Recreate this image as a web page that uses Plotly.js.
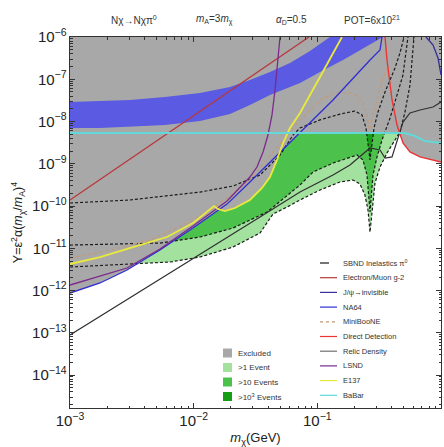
<!DOCTYPE html>
<html><head><meta charset="utf-8">
<script src="https://cdn.plot.ly/plotly-3.0.1.min.js"></script>
<style>html,body{margin:0;padding:0;background:#fff}#chart{width:444px;height:447px}</style>
</head><body><div id="chart"></div>
<script>
// ---------------- data (m_chi in GeV, Y) ----------------
const bandUpperM = [0.001,0.00175,0.003055,0.00586,0.01125,0.01967,0.0285,0.0414,0.0601,0.0872,0.1265];
const bandUpperY = [2.90e-8,3.06e-8,3.23e-8,3.80e-8,4.73e-8,6.56e-8,9.60e-8,1.49e-7,2.43e-7,4.66e-7,1e-6];
const bandLowerM = [0.001,0.00175,0.003055,0.00586,0.01125,0.01967,0.0285,0.0414,0.0724,0.1051,0.1613,0.2213,0.3397];
const bandLowerY = [7.02e-9,7.02e-9,7.41e-9,8.26e-9,1.03e-8,1.50e-8,2.46e-8,4.24e-8,8.15e-8,1.49e-7,2.86e-7,4.92e-7,1e-6];

const babarM = [0.001,0.5115,0.6162,0.7422,1.0];
const babarY = [5.35e-9,5.35e-9,4.54e-9,3.45e-9,3.10e-9];

const g2M = [0.001,0.00933,0.0856];
const g2Y = [1.39e-10,1.21e-8,1e-6];

const ddM = [0.3526,0.3660,0.4018,0.4409,0.4928,0.5613,0.6761,1.0];
const ddY = [1e-6,2.86e-7,3.23e-8,8.26e-9,3.10e-9,1.90e-9,1.45e-9,1.10e-9];

const jpsiM = [0.7564,0.8624,0.9462,1.0];
const jpsiY = [1e-6,6.47e-7,3.18e-7,1.26e-7];

const na64M = [0.001,0.00175,0.00289,0.00534,0.00988,0.01862,0.0285,0.0499,0.0724,0.1339,0.2667,0.3212,0.3334];
const na64Y = [8.73e-13,1.51e-12,3.06e-12,9.09e-12,3.01e-11,1.11e-10,3.70e-10,1.90e-9,5.35e-9,3.23e-8,2.86e-7,4.92e-7,1e-6];

const lsndM = [0.001,0.002105,0.00289,0.00534,0.00988,0.01862,0.0237,0.0285,0.0325,0.0364,0.0399,0.0430,0.0455,0.0481,0.0499];
const lsndY = [1.35e-12,2.60e-12,3.41e-12,9.59e-12,3.36e-11,1.31e-10,2.67e-10,4.86e-10,8.38e-10,1.90e-9,4.79e-9,1.43e-8,5.57e-8,2.86e-7,1e-6];

const e137M = [0.001,0.00175,0.00323,0.00608,0.00988,0.01355,0.01461,0.01573,0.01791,0.02159,0.0285,0.03569,0.0414,0.0472,0.0528,0.0601,0.0724,0.1051,0.1582];
const e137Y = [4.24e-12,6.21e-12,1.07e-11,1.85e-11,3.96e-11,8.04e-11,1.0e-10,8.49e-11,7.62e-11,8.97e-11,1.39e-10,2.67e-10,4.86e-10,1.23e-9,3.10e-9,7.02e-9,1.59e-8,1.13e-7,1e-6];

const mbM = [0.001,0.002105,0.00443,0.00933,0.01633,0.0285,0.0472,0.0724,0.1051,0.1389,0.1837,0.2132,0.2339,0.2521,0.2667,0.2820,0.3037,0.3271,0.3660];
const mbY = [5.88e-12,9.09e-12,1.57e-11,4.18e-11,1.18e-10,4.12e-10,2.49e-9,1.09e-8,3.23e-8,4.73e-8,4.73e-8,4.02e-8,2.74e-8,1.43e-8,5.35e-9,1.43e-8,3.23e-8,7.31e-8,1.85e-7];

const relicM = [0.001,0.00443,0.01125,0.0344,0.0724,0.1339,0.1837,0.2213,0.2667,0.3212,0.3526,0.4018,0.4491,0.4928,0.5613,0.6761,0.8624,1.0];
const relicY = [8.85e-14,1.35e-12,7.31e-12,5.49e-11,2.14e-10,5.42e-10,9.34e-10,1.45e-9,2.36e-9,2.12e-9,1.37e-9,1.45e-9,4.30e-9,9.73e-9,1.59e-8,1.87e-8,2.20e-8,2.90e-8];

const ev1M = [0.001,0.00348,0.00644,0.01125,0.0208,0.0344,0.0399,0.0438,0.0569,0.0724,0.1051,0.1524,0.1942,0.2213,0.2427,0.2569,0.2667,0.2768,0.2926,0.3212,0.3660,0.4248,0.4660,0.5115,0.5613,0.6048];
const ev1Y = [3.60e-12,4.24e-12,4.73e-12,6.21e-12,1.07e-11,2.30e-11,4.18e-11,6.47e-11,9.47e-11,1.39e-10,2.39e-10,3.70e-10,4.12e-10,3.32e-10,1.82e-10,8.04e-11,2.42e-11,8.04e-11,3.50e-10,8.38e-10,1.80e-9,3.65e-9,5.64e-9,1.68e-8,7.31e-8,1e-6];

const ev10M = [0.001,0.00534,0.01125,0.0208,0.0392,0.0724,0.0923,0.1339,0.2094,0.2339,0.2521,0.2667,0.2820,0.3037,0.3334,0.3871,0.4409,0.4928,0.5406];
const ev10Y = [1.19e-11,1.33e-11,1.85e-11,3.01e-11,7.21e-11,3.14e-10,6.38e-10,1.04e-9,1.61e-9,1.23e-9,5.42e-10,7.21e-11,5.42e-10,1.45e-9,3.65e-9,1.21e-8,4.24e-8,1.26e-7,1e-6];

const ev1000M = [0.001,0.003055,0.01125,0.0208,0.0344,0.0499,0.0636,0.0724,0.1051,0.1524,0.2016,0.2297,0.2474,0.2667,0.2873,0.3094,0.3526,0.4248,0.4660,0.5022];
const ev1000Y = [1.18e-10,1.39e-10,2.14e-10,2.97e-10,5.42e-10,1.61e-9,4.79e-9,7.02e-9,1.09e-8,1.50e-8,1.77e-8,1.43e-8,7.02e-9,1.23e-9,7.02e-9,1.68e-8,4.99e-8,1.85e-7,4.18e-7,1e-6];

const xTitle = '<i>m</i><sub>χ</sub>(GeV)';
const yTitle = 'Y=ε<sup>2</sup>α(<i>m</i><sub>χ</sub>/<i>m</i><sub>A</sub>)<sup>4</sup>';
const headerTexts = ['Nχ→Nχπ<sup>0</sup>','<i>m</i><sub>A</sub>=3<i>m</i><sub>χ</sub>','<i>α</i><sub>D</sub>=0.5','POT=6x10<sup>21</sup>'];
const fillLegend = ['Excluded','>1 Event','>10 Events','>10<sup>3</sup> Events'];
const lineLegend = ['SBND Inelastics π<sup>0</sup>','Electron/Muon g-2','J/ψ→invisible','NA64','MiniBooNE','Direct Detection','Relic Density','LSND','E137','BaBar'];

// ---------------- styling ----------------
const yRange = [-14.78, -6];
const YTOP = Math.pow(10, yRange[1]);
const C = {
  gray:'#a8a8a8', light:'#a2e29e', mid:'#4cc24c', dark:'#169e16', band:'#5a5ae2',
  g2:'#b8383c', jpsi:'#34309a', na64:'#2f2fd2', mb:'#c49a78', dd:'#ec3434',
  relic:'#303030', lsnd:'#7a2a8c', e137:'#eaea3c', babar:'#62d8d8', sbnd:'#1a1a1a'
};

function closedAbove(m, y){
  return {x: m.concat([m[m.length-1], m[0]]), y: y.concat([YTOP, YTOP])};
}
function fillTrace(m, y, color){
  const p = closedAbove(m, y);
  return {x:p.x, y:p.y, type:'scatter', mode:'lines', fill:'toself', fillcolor:color,
          line:{width:0, color:color}, hoverinfo:'skip', showlegend:false};
}
function lineTrace(m, y, color, width, dash){
  return {x:m, y:y, type:'scatter', mode:'lines', line:{color:color, width:width, dash:dash||'solid'},
          hoverinfo:'skip', showlegend:false};
}

const data = [
  fillTrace(ev1M, ev1Y, C.light),
  fillTrace(ev10M, ev10Y, C.mid),
  fillTrace(ev1000M, ev1000Y, C.dark),
  fillTrace(na64M, na64Y, C.gray),
  fillTrace(lsndM, lsndY, C.gray),
  fillTrace(e137M, e137Y, C.gray),
  fillTrace(babarM, babarY, C.gray),
  fillTrace(ddM, ddY, C.gray),
  {x: bandUpperM.concat(bandLowerM.slice().reverse()), y: bandUpperY.concat(bandLowerY.slice().reverse()),
   type:'scatter', mode:'lines', fill:'toself', fillcolor:C.band, line:{width:0,color:C.band}, hoverinfo:'skip', showlegend:false},
  lineTrace(ev1M, ev1Y, C.sbnd, 1.2, '3px,2px'),
  lineTrace(ev10M, ev10Y, C.sbnd, 1.2, '3px,2px'),
  lineTrace(ev1000M, ev1000Y, C.sbnd, 1.2, '3px,2px'),
  lineTrace(g2M, g2Y, C.g2, 1.3),
  lineTrace(jpsiM, jpsiY, C.jpsi, 1.3),
  lineTrace(mbM, mbY, C.mb, 1.4, 'dot'),
  lineTrace(relicM, relicY, C.relic, 1.2),
  lineTrace(na64M, na64Y, C.na64, 1.3),
  lineTrace(lsndM, lsndY, C.lsnd, 1.3),
  lineTrace(ddM, ddY, C.dd, 1.4),
  lineTrace(e137M, e137Y, C.e137, 1.8),
  lineTrace(babarM, babarY, C.babar, 2)
];

// ---------------- layout ----------------
const L = 70, R = 441, T = 37, B = 408;   // plot area in pixels
const px2paperX = px => (px - L) / (R - L);
const px2paperY = py => (B - py) / (B - T);

const annotations = [];
const shapes = [];
const headerX = [134, 214, 291, 372];
headerTexts.forEach((t,i) => annotations.push({xref:'paper', yref:'paper', x:px2paperX(headerX[i]), y:px2paperY(20),
  text:t, showarrow:false, xanchor:'center', yanchor:'middle', font:{size:10, color:'#333'}}));

const fillColors = [C.gray, C.light, C.mid, C.dark];
fillLegend.forEach((t,i) => {
  const py = 353 + 14.5*i;
  shapes.push({type:'rect', xref:'paper', yref:'paper', x0:px2paperX(223), x1:px2paperX(232),
    y0:px2paperY(py+4.5), y1:px2paperY(py-4.5), fillcolor:fillColors[i], line:{width:0}});
  annotations.push({xref:'paper', yref:'paper', x:px2paperX(236), y:px2paperY(py), text:t, showarrow:false,
    xanchor:'left', yanchor:'middle', font:{size:8, color:'#333'}});
});

const lineStyles = [[C.sbnd,'dash'],[C.g2,'solid'],[C.jpsi,'solid'],[C.na64,'solid'],[C.mb,'dot'],[C.dd,'solid'],['#707070','solid'],[C.lsnd,'solid'],[C.e137,'solid'],[C.babar,'solid']];
lineLegend.forEach((t,i) => {
  const py = 263 + 14.7*i;
  shapes.push({type:'line', xref:'paper', yref:'paper', x0:px2paperX(320), x1:px2paperX(337),
    y0:px2paperY(py), y1:px2paperY(py), line:{color:lineStyles[i][0], width:1.2, dash:lineStyles[i][1]}});
  annotations.push({xref:'paper', yref:'paper', x:px2paperX(341), y:px2paperY(py), text:t, showarrow:false,
    xanchor:'left', yanchor:'middle', font:{size:7.5, color:'#333'}});
});

const axisCommon = {
  type:'log', dtick:1, exponentformat:'power', ticks:'inside', ticklen:5, tickcolor:'#333',
  showline:true, linecolor:'#333', linewidth:1, mirror:'allticks', showgrid:false, zeroline:false,
  tickfont:{size:12, color:'#222'},
  minor:{ticks:'inside', ticklen:2.5, tickcolor:'#333', dtick:'D1', showgrid:false}
};

const layout = {
  width:444, height:447,
  margin:{l:L, r:444-R, t:T, b:447-B},
  paper_bgcolor:'#ffffff', plot_bgcolor:'#ffffff',
  showlegend:false,
  font:{family:'Liberation Sans, Arial, Helvetica, sans-serif', size:12, color:'#222'},
  xaxis:Object.assign({}, axisCommon, {range:[-3,0], title:{text:xTitle, font:{size:13, color:'#222'}, standoff:6}}),
  yaxis:Object.assign({}, axisCommon, {range:yRange, title:{text:yTitle, font:{size:12.5, color:'#222'}, standoff:6}}),
  annotations:annotations,
  shapes:shapes
};

Plotly.newPlot('chart', data, layout, {staticPlot:true, displayModeBar:false});
</script>
</body></html>
